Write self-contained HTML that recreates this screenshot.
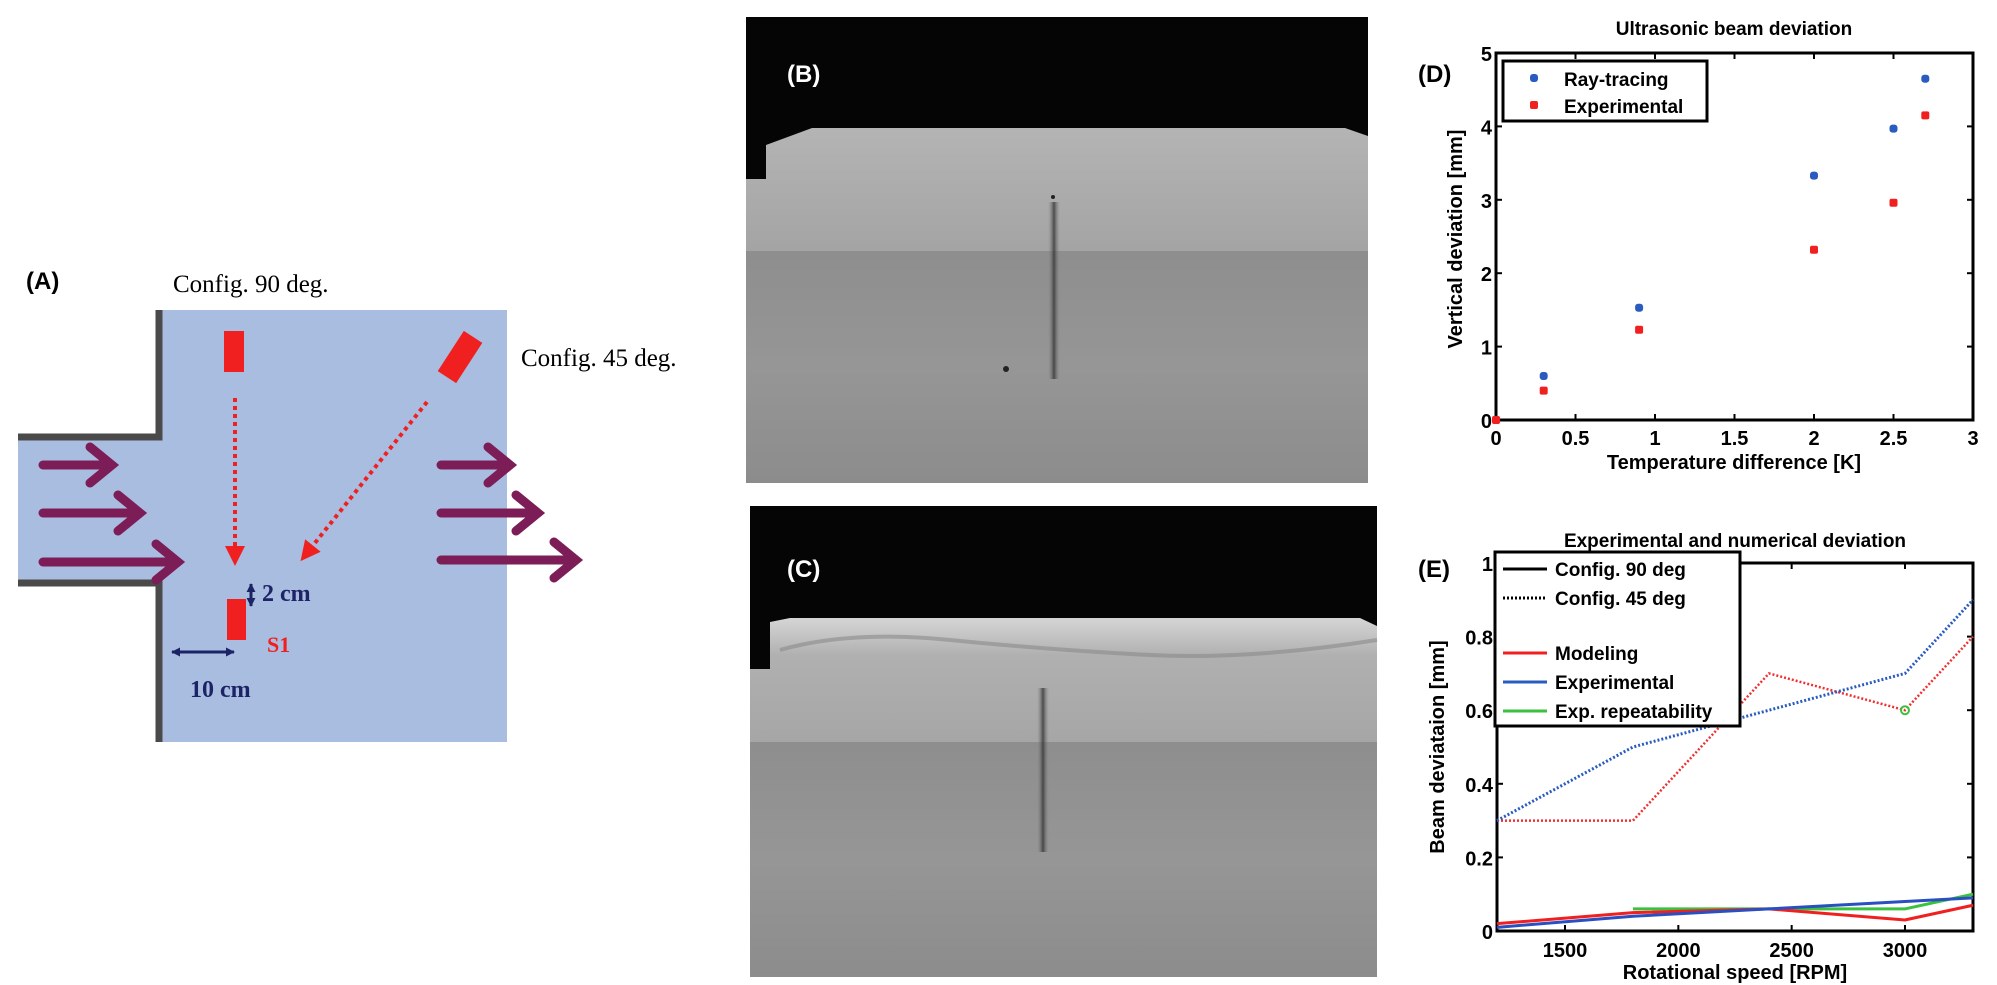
<!DOCTYPE html>
<html><head><meta charset="utf-8"><style>
html,body{margin:0;padding:0;background:#fff;}
svg{display:block;font-family:"Liberation Sans",sans-serif;}
</style></head><body>
<svg id="fig" width="1997" height="985" viewBox="0 0 1997 985">
<defs>
<linearGradient id="gB1" x1="0" x2="0" y1="0" y2="1"><stop offset="0" stop-color="#b4b4b4"/><stop offset="1" stop-color="#a4a4a4"/></linearGradient>
<linearGradient id="gB2" x1="0" x2="0" y1="0" y2="1"><stop offset="0" stop-color="#8e8e8e"/><stop offset="0.5" stop-color="#969696"/><stop offset="1" stop-color="#8c8c8c"/></linearGradient>
<linearGradient id="gC1" x1="0" x2="0" y1="0" y2="1"><stop offset="0" stop-color="#d6d6d6"/><stop offset="0.3" stop-color="#b0b0b0"/><stop offset="1" stop-color="#a6a6a6"/></linearGradient>
<linearGradient id="streak" x1="0" x2="1"><stop offset="0" stop-color="#888" stop-opacity="0"/><stop offset="0.5" stop-color="#333" stop-opacity="0.8"/><stop offset="1" stop-color="#888" stop-opacity="0"/></linearGradient>
<marker id="ah" viewBox="0 0 10 10" refX="8" refY="5" markerWidth="5" markerHeight="5" orient="auto"><path d="M0,0 L10,5 L0,10 z" fill="#f02020"/></marker>
<marker id="na" viewBox="0 0 10 10" refX="9" refY="5" markerWidth="3" markerHeight="3" orient="auto-start-reverse"><path d="M0,0 L10,5 L0,10 z" fill="#1d2466"/></marker>
</defs>

<!-- Panel A -->
<g>
<text x="26" y="289" font-size="24" font-weight="bold">(A)</text>
<text x="173" y="292" font-family="Liberation Serif,serif" font-size="25">Config. 90 deg.</text>
<text x="521" y="366" font-family="Liberation Serif,serif" font-size="25">Config. 45 deg.</text>
<rect x="159" y="310" width="348" height="432" fill="#a9bde0"/>
<rect x="18" y="437" width="145" height="146" fill="#a9bde0"/>
<path d="M159,310 V437 H18 M18,583 H159 V742" fill="none" stroke="#4a4a4a" stroke-width="7"/>
<rect x="224" y="331" width="20" height="41" fill="#f02020"/>
<rect x="449" y="333" width="22" height="48" fill="#f02020" transform="rotate(33 460 357)"/>
<line x1="235" y1="398" x2="235" y2="562" stroke="#f02020" stroke-width="4" stroke-dasharray="4,4" marker-end="url(#ah)"/>
<line x1="427" y1="402" x2="303" y2="558" stroke="#f02020" stroke-width="4" stroke-dasharray="4,4" marker-end="url(#ah)"/>
<g stroke="#7d1d57" stroke-width="9" fill="none" stroke-linecap="round">
<path d="M43,465 H112 M90,447 L112,465 L90,483"/>
<path d="M43,513 H140 M118,495 L140,513 L118,531"/>
<path d="M43,562 H178 M156,544 L178,562 L156,580"/>
<path d="M441,465 H510 M488,447 L510,465 L488,483"/>
<path d="M441,513 H538 M516,495 L538,513 L516,531"/>
<path d="M441,560 H576 M554,542 L576,560 L554,578"/>
</g>
<rect x="227" y="599" width="19" height="41" fill="#f02020"/>
<line x1="251" y1="584" x2="251" y2="606" stroke="#1d2466" stroke-width="3" marker-start="url(#na)" marker-end="url(#na)"/>
<text x="262" y="601" font-family="Liberation Serif,serif" font-size="24" font-weight="bold" fill="#1d2466">2 cm</text>
<text x="267" y="652" font-family="Liberation Serif,serif" font-size="22" font-weight="bold" fill="#f02020">S1</text>
<line x1="172" y1="652" x2="234" y2="652" stroke="#1d2466" stroke-width="3" marker-start="url(#na)" marker-end="url(#na)"/>
<text x="190" y="697" font-family="Liberation Serif,serif" font-size="24" font-weight="bold" fill="#1d2466">10 cm</text>
</g>

<!-- Panel B -->
<g>
<rect x="746" y="17" width="622" height="466" fill="#050505"/>
<path d="M766,179 V145 L812,128 H1345 L1368,136 V251 H746 V179 Z" fill="url(#gB1)"/>
<rect x="746" y="251" width="622" height="232" fill="url(#gB2)"/>
<rect x="1048" y="202" width="12" height="177" fill="url(#streak)"/>
<circle cx="1053" cy="197" r="2" fill="#222"/><circle cx="1006" cy="369" r="3" fill="#222"/>
<text x="787" y="82" font-size="24" font-weight="bold" fill="#fff">(B)</text>
</g>
<!-- Panel C -->
<g>
<rect x="750" y="506" width="627" height="471" fill="#050505"/>
<path d="M770,669 V622 L790,618 H1360 L1377,626 V742 H750 V669 Z" fill="url(#gC1)"/>
<path d="M780,650 Q850,630 950,640 T1150,655 T1377,640" stroke="#8a8a8a" stroke-width="4" fill="none" opacity="0.6"/>
<rect x="750" y="742" width="627" height="235" fill="url(#gB2)"/>
<rect x="1037" y="688" width="12" height="164" fill="url(#streak)"/>
<text x="787" y="577" font-size="24" font-weight="bold" fill="#fff">(C)</text>
</g>

<g id="chartD"></g>
<g id="chartE"></g>
</svg>
<script>
const NS="http://www.w3.org/2000/svg";
function mk(parent,tag,attrs,text){const e=document.createElementNS(NS,tag);for(const k in attrs)e.setAttribute(k,attrs[k]);if(text!==undefined)e.textContent=text;parent.appendChild(e);return e;}

// ---- Chart D data ----
const dTemp=[0,0.3,0.9,2,2.5,2.7];
const dRay=[0,0.6,1.53,3.33,3.97,4.65];
const dExp=[0,0.4,1.23,2.32,2.96,4.15];
const dXTicks=[0,0.5,1,1.5,2,2.5,3];
const dYTicks=[0,1,2,3,4,5];

// ---- Chart E data ----
const eRpm=[1200,1800,2400,3000,3300];
const eMod45=[0.3,0.3,0.7,0.6,0.8];
const eExp45=[0.3,0.5,0.6,0.7,0.9];
const eMod90=[0.02,0.05,0.06,0.03,0.07];
const eExp90=[0.01,0.04,0.06,0.08,0.09];
const eRepRpm=[1800,2400,3000,3300];
const eRep90=[0.06,0.06,0.06,0.1];
const eXTicks=[1500,2000,2500,3000];
const eYTicks=[0,0.2,0.4,0.6,0.8,1];
const eYTickLabels=["0","0.2","0.4","0.6","0.8","1"];

(function(){
const g=document.getElementById('chartD');
const L=1496,R=1973,T=53,B=420;
const x=v=>L+(v-0)/(3-0)*(R-L), y=v=>B-(v-0)/(5-0)*(B-T);
mk(g,'rect',{x:L,y:T,width:R-L,height:B-T,fill:'#fff',stroke:'#000','stroke-width':3,});
dXTicks.forEach(t=>{mk(g,'line',{x1:x(t),x2:x(t),y1:B,y2:B-6,stroke:'#000','stroke-width':2});mk(g,'line',{x1:x(t),x2:x(t),y1:T,y2:T+6,stroke:'#000','stroke-width':2});
 const tl=mk(g,'text',{x:x(t),y:B+25,'font-size':20,'font-weight':'bold','text-anchor':'middle'},String(t));});
dYTicks.forEach(t=>{mk(g,'line',{x1:L,x2:L+6,y1:y(t),y2:y(t),stroke:'#000','stroke-width':2});mk(g,'line',{x1:R,x2:R-6,y1:y(t),y2:y(t),stroke:'#000','stroke-width':2});
 const tl=mk(g,'text',{x:L-4,y:y(t)+8,'font-size':20,'font-weight':'bold','text-anchor':'end'},String(t));});
dTemp.forEach((t,i)=>{
 const a=mk(g,'rect',{x:x(t)-4,y:y(dRay[i])-4,width:8,height:8,rx:3,fill:'#2a5cc0'});
 const b=mk(g,'rect',{x:x(t)-4,y:y(dExp[i])-4,width:8,height:8,rx:2,fill:'#f02020'});
});
const t=mk(g,'text',{x:1734,y:35,'font-size':19,'font-weight':'bold','text-anchor':'middle'},'Ultrasonic beam deviation');
const xl=mk(g,'text',{x:1734,y:469,'font-size':20,'font-weight':'bold','text-anchor':'middle'},'Temperature difference [K]');
const yl=mk(g,'text',{x:1462,y:239,'font-size':20,'font-weight':'bold','text-anchor':'middle',transform:'rotate(-90 1462 239)'},'Vertical deviation [mm]');
const pl=mk(g,'text',{x:1418,y:82,'font-size':24,'font-weight':'bold'},'(D)');
const lg=mk(g,'g',{});
mk(lg,'rect',{x:1503,y:61,width:204,height:60,fill:'#fff',stroke:'#000','stroke-width':3});
mk(lg,'rect',{x:1530,y:74,width:8,height:8,rx:3,fill:'#2a5cc0'});
mk(lg,'rect',{x:1530,y:101,width:8,height:8,rx:2,fill:'#f02020'});
const e1=mk(lg,'text',{x:1564,y:86,'font-size':19,'font-weight':'bold'},'Ray-tracing');
const e2=mk(lg,'text',{x:1564,y:113,'font-size':19,'font-weight':'bold'},'Experimental');
})();

(function(){
const g=document.getElementById('chartE');
const L=1497,R=1973,T=563,B=931;
const x=v=>L+(v-1200)/(3300-1200)*(R-L), y=v=>B-(v-0)/(1-0)*(B-T);
mk(g,'rect',{x:L,y:T,width:R-L,height:B-T,fill:'#fff',stroke:'#000','stroke-width':3,});
eXTicks.forEach(t=>{mk(g,'line',{x1:x(t),x2:x(t),y1:B,y2:B-6,stroke:'#000','stroke-width':2});mk(g,'line',{x1:x(t),x2:x(t),y1:T,y2:T+6,stroke:'#000','stroke-width':2});
 const tl=mk(g,'text',{x:x(t),y:B+26,'font-size':20,'font-weight':'bold','text-anchor':'middle'},String(t));});
eYTicks.forEach((t,i)=>{mk(g,'line',{x1:L,x2:L+6,y1:y(t),y2:y(t),stroke:'#000','stroke-width':2});mk(g,'line',{x1:R,x2:R-6,y1:y(t),y2:y(t),stroke:'#000','stroke-width':2});
 const tl=mk(g,'text',{x:L-4,y:y(t)+8,'font-size':20,'font-weight':'bold','text-anchor':'end'},eYTickLabels[i]);});
function line(xs,ys,color,dash,name,w){const pts=xs.map((v,i)=>x(v)+','+y(ys[i])).join(' ');const p=mk(g,'polyline',{points:pts,fill:'none',stroke:color,'stroke-width':w||3,'stroke-dasharray':dash||'none'});}
line(eRpm,eMod45,'#f03030','2,2','modeling-45-line',2.5);
line(eRpm,eExp45,'#2a5cc0','2,2','experimental-45-line',3);
line(eRepRpm,eRep90,'#3cc040',null,'repeatability-90-line',3);
line(eRpm,eMod90,'#f02020',null,'modeling-90-line',3);
line(eRpm,eExp90,'#2a4fc0',null,'experimental-90-line',3);
const c=mk(g,'circle',{cx:x(3000),cy:y(0.6),r:4,fill:'none',stroke:'#3cc040','stroke-width':2});
const t=mk(g,'text',{x:1735,y:547,'font-size':19,'font-weight':'bold','text-anchor':'middle'},'Experimental and numerical deviation');
const xl=mk(g,'text',{x:1735,y:979,'font-size':20,'font-weight':'bold','text-anchor':'middle'},'Rotational speed [RPM]');
const yl=mk(g,'text',{x:1444,y:747,'font-size':20,'font-weight':'bold','text-anchor':'middle',transform:'rotate(-90 1444 747)'},'Beam deviataion [mm]');
const pl=mk(g,'text',{x:1418,y:577,'font-size':24,'font-weight':'bold'},'(E)');
const lg=mk(g,'g',{});
mk(lg,'rect',{x:1495,y:552,width:245,height:174,fill:'#fff',stroke:'#000','stroke-width':3});
const items=[['Config. 90 deg','#000',null,569],['Config. 45 deg','#000','2,2',598],['Modeling','#f02020',null,653],['Experimental','#2a5cc0',null,682],['Exp. repeatability','#3cc040',null,711]];
items.forEach(it=>{mk(lg,'line',{x1:1503,x2:1547,y1:it[3],y2:it[3],stroke:it[1],'stroke-width':3,'stroke-dasharray':it[2]||'none'});
 const tx=mk(lg,'text',{x:1555,y:it[3]+7,'font-size':19,'font-weight':'bold'},it[0]);});
})();
</script>
</body></html>
